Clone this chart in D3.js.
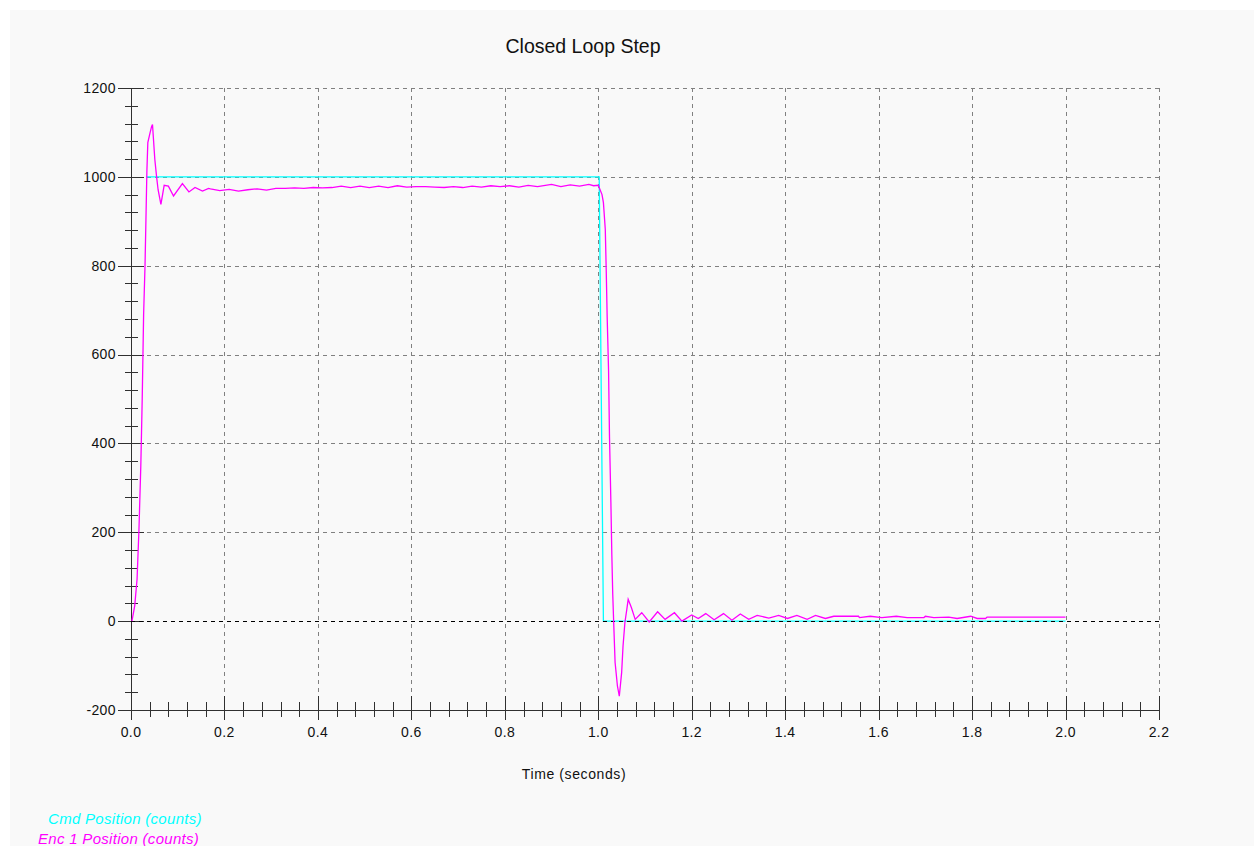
<!DOCTYPE html>
<html>
<head>
<meta charset="utf-8">
<script src="https://cdn.jsdelivr.net/npm/d3@7"></script>
<style>
  body { margin: 0; background: #ffffff; }
  text { font-family: Arial, "Liberation Sans", sans-serif; }
</style>
</head>
<body>
<script>
const panel_width = 1254;
const panel_height = 846;

// x ticks and y ticks as printed on the chart
const xTicks = [0.0, 0.2, 0.4, 0.6, 0.8, 1.0, 1.2, 1.4, 1.6, 1.8, 2.0, 2.2];
const yTicks = [-200, 0, 200, 400, 600, 800, 1000, 1200];

// commanded position (counts)
const cmdTime = [0.032, 1.002, 1.011, 2.0];
const cmdPos  = [1000, 1000, 0, 0];

// encoder 1 position (counts)
const encTime = [
    0.002, 0.008, 0.013, 0.017, 0.021, 0.024, 0.027, 0.030, 0.032, 0.034, 0.036, 0.041, 0.044, 0.046,
    0.051, 0.055, 0.058, 0.064, 0.071, 0.080, 0.091, 0.110, 0.124, 0.137, 0.153, 0.166,
    0.17, 0.19, 0.21, 0.23, 0.25, 0.27, 0.29, 0.31, 0.33, 0.35, 0.37, 0.39, 0.41, 0.43, 0.45,
    0.47, 0.49, 0.51, 0.53, 0.55, 0.57, 0.59, 0.61, 0.63, 0.65, 0.67, 0.69, 0.71, 0.73, 0.75,
    0.77, 0.79, 0.81, 0.83, 0.85, 0.87, 0.90, 0.92, 0.94, 0.96, 0.98, 0.99, 1.000,
    1.008, 1.011, 1.015, 1.017, 1.019, 1.022, 1.024, 1.027, 1.029, 1.031, 1.033, 1.036, 1.041,
    1.045, 1.050, 1.053, 1.057, 1.061, 1.064, 1.071, 1.079, 1.093, 1.109, 1.127, 1.143, 1.163,
    1.179, 1.200, 1.214, 1.230, 1.248, 1.268, 1.286, 1.304, 1.322, 1.340, 1.365, 1.386, 1.405,
    1.425, 1.447, 1.465, 1.486, 1.504, 1.557, 1.559, 1.582, 1.607, 1.638, 1.661, 1.697, 1.700,
    1.718, 1.750, 1.768, 1.797, 1.811, 1.829, 1.832, 2.0
];
const encPos = [
    0, 35, 95, 205, 350, 500, 690, 800, 905, 1013, 1077, 1100, 1113, 1118,
    1039, 998, 971, 938, 981, 979, 957, 985, 966, 976, 968, 974,
    973, 969, 972, 968, 971, 973, 970, 974, 974, 975, 974, 976, 975, 976, 979,
    976, 979, 976, 979, 976, 980, 977, 978, 978, 977, 976, 978, 976, 979, 977,
    980, 978, 980, 977, 981, 978, 983, 978, 982, 979, 983, 980, 981,
    960, 942, 882, 791, 686, 566, 416, 267, 150, 60, -3, -93, -146,
    -169, -116, -56, -3, 26, 49, 30, 4, 19, -2, 21, 4, 19,
    0, 14, 6, 17, 3, 17, 2, 16, 4, 13, 7, 13, 6,
    13, 4, 13, 6, 11, 11, 8, 11, 8, 11, 8, 8, 11,
    8, 9, 6, 11, 6, 6, 9, 9
];

const legendLabels = ["Cmd Position (counts)", "Enc 1 Position (counts)"];

window.addEventListener("load", drawChart);

function drawChart() {
    const svg = d3.select("body")
        .append("svg")
        .attr("width", panel_width)
        .attr("height", panel_height);

    // grey panel behind everything
    svg.append("rect")
        .attr("x", 10)
        .attr("y", 10)
        .attr("width", panel_width - 10)
        .attr("height", panel_height - 10)
        .attr("fill", "#f9f9f9");

    const x = d3.scaleLinear().domain([0, 2.2]).range([131, 1159]);
    const y = d3.scaleLinear().domain([-200, 1200]).range([710, 88]);

    // dashed grid
    const grid = svg.append("g").attr("shape-rendering", "crispEdges");
    xTicks.filter(d => d > 0).forEach(d => {
        grid.append("line")
            .attr("x1", Math.round(x(d)) + 0.5).attr("x2", Math.round(x(d)) + 0.5)
            .attr("y1", y(1200)).attr("y2", y(-200))
            .attr("stroke", "#808080")
            .attr("stroke-dasharray", "4,4");
    });
    yTicks.filter(d => d > -200 && d !== 0).forEach(d => {
        grid.append("line")
            .attr("x1", x(0)).attr("x2", x(2.2))
            .attr("y1", Math.round(y(d)) + 0.5).attr("y2", Math.round(y(d)) + 0.5)
            .attr("stroke", "#808080")
            .attr("stroke-dasharray", "4,4");
    });

    // axes: minor ticks cross the axis line, major ones are longer
    const axes = svg.append("g").attr("shape-rendering", "crispEdges").attr("stroke", "#303030");
    const yMinor = d3.range(-200, 1201, 40).filter(d => d % 200 !== 0);
    yMinor.forEach(d => {
        axes.append("line")
            .attr("x1", 125).attr("x2", 138)
            .attr("y1", Math.round(y(d)) + 0.5).attr("y2", Math.round(y(d)) + 0.5);
    });
    yTicks.forEach(d => {
        axes.append("line")
            .attr("x1", 118).attr("x2", 144)
            .attr("y1", Math.round(y(d)) + 0.5).attr("y2", Math.round(y(d)) + 0.5);
    });
    const xMinor = d3.range(0, 2.2001, 0.04).filter(d => Math.abs(d / 0.2 - Math.round(d / 0.2)) > 0.01);
    xMinor.forEach(d => {
        axes.append("line")
            .attr("x1", Math.round(x(d)) + 0.5).attr("x2", Math.round(x(d)) + 0.5)
            .attr("y1", 702).attr("y2", 717);
    });
    xTicks.forEach(d => {
        axes.append("line")
            .attr("x1", Math.round(x(d)) + 0.5).attr("x2", Math.round(x(d)) + 0.5)
            .attr("y1", 696).attr("y2", 720);
    });
    axes.append("line")
        .attr("x1", x(0) + 0.5).attr("x2", x(0) + 0.5)
        .attr("y1", y(1200)).attr("y2", y(-200));
    axes.append("line")
        .attr("x1", x(0)).attr("x2", x(2.2))
        .attr("y1", y(-200) + 0.5).attr("y2", y(-200) + 0.5);

    // tick labels
    svg.append("g").selectAll("text")
        .data(yTicks)
        .join("text")
        .attr("x", 116)
        .attr("y", d => y(d))
        .attr("dy", "0.35em")
        .attr("text-anchor", "end")
        .attr("font-size", "14px")
        .attr("letter-spacing", "0.4px")
        .attr("fill", "#111")
        .text(d => d);

    svg.append("g").selectAll("text")
        .data(xTicks)
        .join("text")
        .attr("x", d => x(d))
        .attr("y", 737)
        .attr("text-anchor", "middle")
        .attr("font-size", "14px")
        .attr("letter-spacing", "0.4px")
        .attr("fill", "#111")
        .text(d => d.toFixed(1));

    const line = d3.line().x(d => x(d[0])).y(d => y(d[1]));

    svg.append("path")
        .datum(cmdTime.map((t, i) => [t, cmdPos[i]]))
        .attr("d", line)
        .attr("fill", "none")
        .attr("stroke", "#00ffff")
        .attr("stroke-width", 1.3);

    // zero line, dashed black, over the command trace
    svg.append("line")
        .attr("shape-rendering", "crispEdges")
        .attr("x1", x(0)).attr("x2", x(2.2))
        .attr("y1", Math.round(y(0)) + 0.5).attr("y2", Math.round(y(0)) + 0.5)
        .attr("stroke", "#000")
        .attr("stroke-dasharray", "4,4");

    svg.append("path")
        .datum(encTime.map((t, i) => [t, encPos[i]]))
        .attr("d", line)
        .attr("fill", "none")
        .attr("stroke", "#ff00ff")
        .attr("stroke-width", 1.3);

    // titles
    svg.append("text")
        .attr("x", 583)
        .attr("y", 53)
        .attr("text-anchor", "middle")
        .attr("font-size", "19.5px")
        .attr("fill", "#111")
        .text("Closed Loop Step");

    svg.append("text")
        .attr("x", 574)
        .attr("y", 779)
        .attr("text-anchor", "middle")
        .attr("font-size", "14px")
        .attr("letter-spacing", "0.6px")
        .attr("fill", "#111")
        .text("Time (seconds)");

    // legend
    const legendColors = ["#00ffff", "#ff00ff"];
    svg.append("g").selectAll("text")
        .data(legendLabels)
        .join("text")
        .attr("x", (d, i) => i === 0 ? 48 : 38)
        .attr("y", (d, i) => 824 + i * 20)
        .attr("font-size", "15px")
        .attr("font-style", "italic")
        .attr("letter-spacing", "0.3px")
        .attr("fill", (d, i) => legendColors[i])
        .text(d => d);
}
</script>
</body>
</html>
